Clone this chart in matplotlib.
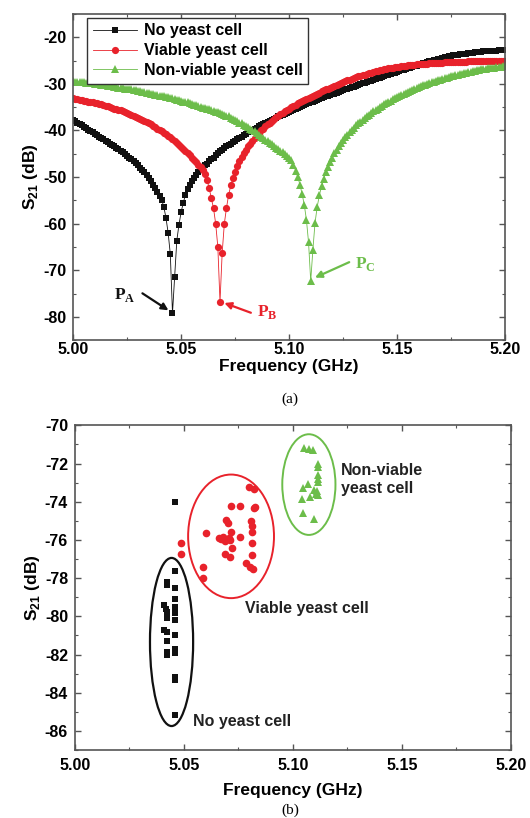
import numpy as np
import matplotlib
matplotlib.use("Agg")
import matplotlib.pyplot as plt
from matplotlib.patches import Ellipse
from matplotlib.ticker import MultipleLocator

plt.rcParams['font.family'] = ['Liberation Sans', 'DejaVu Sans']
plt.rcParams['font.weight'] = 'bold'
plt.rcParams['axes.unicode_minus'] = False
plt.rcParams['mathtext.fontset'] = 'custom'
plt.rcParams['mathtext.rm'] = 'Liberation Sans:bold'
plt.rcParams['mathtext.bf'] = 'Liberation Serif:bold'

# (a) measured sweep, 5.000 - 5.200 GHz, 1 MHz step
freq_ghz = np.linspace(5.0, 5.2, 201)

s21_none = [
    -37.7, -38.0, -38.3, -38.6, -38.9, -39.2, -39.5, -39.8, -40.1, -40.4,
    -40.7, -41.0, -41.3, -41.6, -41.9, -42.2, -42.5, -42.8, -43.1, -43.4,
    -43.7, -44.0, -44.3, -44.7, -45.0, -45.4, -45.8, -46.2, -46.6, -47.0,
    -47.5, -48.0, -48.5, -49.0, -49.6, -50.2, -50.9, -51.6, -52.4, -53.2,
    -54.0, -54.9, -56.4, -58.8, -62.0, -66.6, -79.2, -71.5, -63.6, -60.2,
    -57.5, -55.5, -53.8, -52.6, -51.6, -50.8, -50.1, -49.5, -49.0, -48.5,
    -48.0, -47.5, -47.1, -46.6, -46.2, -45.8, -45.3, -44.9, -44.5, -44.1,
    -43.7, -43.4, -43.1, -42.8, -42.5, -42.2, -41.9, -41.6, -41.3, -41.0,
    -40.7, -40.4, -40.1, -39.9, -39.6, -39.4, -39.1, -38.9, -38.6, -38.4,
    -38.2, -37.9, -37.7, -37.5, -37.3, -37.0, -36.8, -36.6, -36.4, -36.2,
    -36.0, -35.8, -35.6, -35.4, -35.2, -35.0, -34.8, -34.6, -34.4, -34.2,
    -34.0, -33.8, -33.6, -33.5, -33.3, -33.1, -32.9, -32.7, -32.6, -32.4,
    -32.2, -32.1, -31.9, -31.7, -31.6, -31.4, -31.2, -31.1, -30.9, -30.7,
    -30.6, -30.4, -30.2, -30.1, -29.9, -29.8, -29.6, -29.4, -29.3, -29.1,
    -29.0, -28.8, -28.7, -28.5, -28.4, -28.2, -28.0, -27.9, -27.7, -27.6,
    -27.4, -27.3, -27.1, -27.0, -26.8, -26.7, -26.5, -26.4, -26.2, -26.1,
    -25.9, -25.8, -25.6, -25.5, -25.3, -25.2, -25.1, -24.9, -24.8, -24.7,
    -24.6, -24.5, -24.3, -24.2, -24.1, -24.0, -23.9, -23.8, -23.8, -23.7,
    -23.6, -23.5, -23.5, -23.4, -23.3, -23.3, -23.2, -23.2, -23.1, -23.1,
    -23.0, -23.0, -23.0, -22.9, -22.9, -22.9, -22.9, -22.8, -22.8, -22.8,
    -22.8,
]

s21_viable = [
    -33.1, -33.2, -33.3, -33.4, -33.5, -33.6, -33.7, -33.8, -33.9, -34.0,
    -34.1, -34.2, -34.3, -34.4, -34.6, -34.7, -34.8, -35.0, -35.1, -35.3,
    -35.4, -35.6, -35.7, -35.9, -36.1, -36.3, -36.5, -36.7, -36.9, -37.1,
    -37.3, -37.5, -37.7, -38.0, -38.2, -38.5, -38.7, -39.0, -39.3, -39.6,
    -39.9, -40.2, -40.5, -40.8, -41.1, -41.5, -41.9, -42.3, -42.7, -43.1,
    -43.5, -43.9, -44.3, -44.8, -45.3, -45.8, -46.3, -46.8, -47.3, -47.9,
    -48.5, -49.3, -50.6, -52.4, -54.5, -56.7, -60.0, -65.0, -76.8, -66.3,
    -60.0, -56.6, -53.8, -51.8, -50.2, -48.8, -47.6, -46.6, -45.7, -44.9,
    -44.1, -43.4, -42.8, -42.2, -41.6, -41.0, -40.5, -40.0, -39.6, -39.1,
    -38.7, -38.3, -37.9, -37.5, -37.2, -36.8, -36.5, -36.2, -35.9, -35.6,
    -35.3, -35.0, -34.7, -34.5, -34.2, -34.0, -33.7, -33.5, -33.2, -33.0,
    -32.8, -32.5, -32.3, -32.1, -31.9, -31.6, -31.4, -31.2, -31.0, -30.8,
    -30.6, -30.4, -30.2, -30.0, -29.8, -29.6, -29.4, -29.2, -29.1, -28.9,
    -28.7, -28.6, -28.4, -28.3, -28.1, -28.0, -27.8, -27.7, -27.6, -27.4,
    -27.3, -27.2, -27.1, -27.0, -26.9, -26.8, -26.7, -26.6, -26.5, -26.4,
    -26.3, -26.3, -26.2, -26.1, -26.1, -26.0, -26.0, -25.9, -25.9, -25.8,
    -25.8, -25.8, -25.7, -25.7, -25.7, -25.6, -25.6, -25.6, -25.5, -25.5,
    -25.5, -25.5, -25.4, -25.4, -25.4, -25.4, -25.4, -25.3, -25.3, -25.3,
    -25.3, -25.3, -25.3, -25.2, -25.2, -25.2, -25.2, -25.2, -25.2, -25.2,
    -25.1, -25.1, -25.1, -25.1, -25.1, -25.1, -25.1, -25.1, -25.0, -25.0,
    -25.0,
]

s21_nonviable = [
    -29.4, -29.5, -29.5, -29.6, -29.6, -29.7, -29.8, -29.8, -29.9, -29.9,
    -30.0, -30.1, -30.1, -30.2, -30.3, -30.3, -30.4, -30.5, -30.5, -30.6,
    -30.7, -30.8, -30.8, -30.9, -31.0, -31.1, -31.2, -31.2, -31.3, -31.4,
    -31.5, -31.6, -31.7, -31.8, -31.9, -32.0, -32.1, -32.2, -32.3, -32.4,
    -32.5, -32.6, -32.7, -32.8, -32.9, -33.0, -33.1, -33.3, -33.4, -33.5,
    -33.6, -33.8, -33.9, -34.0, -34.2, -34.3, -34.5, -34.6, -34.8, -34.9,
    -35.1, -35.2, -35.4, -35.5, -35.7, -35.8, -36.0, -36.1, -36.3, -36.4,
    -36.6, -36.8, -37.0, -37.3, -37.5, -37.8, -38.0, -38.3, -38.5, -38.8,
    -39.0, -39.3, -39.6, -39.9, -40.2, -40.6, -40.9, -41.3, -41.6, -42.0,
    -42.3, -42.6, -43.0, -43.3, -43.7, -44.0, -44.4, -44.7, -45.1, -45.4,
    -45.8, -46.4, -47.4, -48.6, -50.0, -51.6, -53.6, -55.9, -59.1, -64.0,
    -72.3, -65.6, -59.8, -56.4, -53.9, -52.0, -50.4, -49.0, -47.8, -46.7,
    -45.8, -44.9, -44.1, -43.4, -42.7, -42.1, -41.5, -40.9, -40.4, -39.9,
    -39.4, -38.9, -38.5, -38.1, -37.7, -37.3, -36.9, -36.6, -36.2, -35.9,
    -35.6, -35.3, -35.0, -34.7, -34.4, -34.1, -33.8, -33.6, -33.3, -33.1,
    -32.8, -32.6, -32.4, -32.1, -31.9, -31.7, -31.5, -31.3, -31.1, -30.9,
    -30.7, -30.5, -30.3, -30.2, -30.0, -29.8, -29.7, -29.5, -29.4, -29.2,
    -29.1, -28.9, -28.8, -28.7, -28.5, -28.4, -28.3, -28.2, -28.0, -27.9,
    -27.8, -27.7, -27.6, -27.5, -27.4, -27.3, -27.2, -27.1, -27.0, -26.9,
    -26.8, -26.8, -26.7, -26.6, -26.5, -26.5, -26.4, -26.3, -26.3, -26.2,
    -26.1,
]

# (b) repeated resonance measurements
none_f = [5.0461, 5.0461, 5.0423, 5.0423, 5.0461, 5.0461, 5.0409, 5.0461,
          5.0416, 5.0423, 5.0461, 5.0423, 5.0461, 5.0409, 5.0423, 5.0461,
          5.0423, 5.0461, 5.0423, 5.0461, 5.0423, 5.0461, 5.0461, 5.0461]
none_s = [-74.0, -77.6, -78.2, -78.35, -78.5, -79.1, -79.4, -79.5,
          -79.6, -79.75, -79.8, -80.1, -80.2, -80.7, -80.8, -80.95,
          -81.3, -81.7, -81.85, -81.9, -82.0, -83.15, -83.35, -85.15]

viable_f = [5.0485, 5.0485, 5.0585, 5.0585, 5.0600, 5.0661, 5.0672, 5.0680,
            5.0690, 5.0695, 5.0702, 5.0705, 5.0712, 5.0718, 5.0722, 5.0687,
            5.0710, 5.0718, 5.0756, 5.0759, 5.0798, 5.0820, 5.0820, 5.0824,
            5.0809, 5.0814, 5.0812, 5.0812, 5.0812, 5.0786, 5.0801, 5.0817]
viable_s = [-76.17, -76.73, -77.4, -77.97, -75.65, -75.9, -75.95, -75.85,
            -76.05, -74.95, -75.1, -75.9, -76.0, -75.6, -76.4, -76.73,
            -76.87, -74.2, -74.2, -75.86, -73.25, -73.35, -74.35, -74.25,
            -75.0, -75.25, -75.6, -76.17, -76.78, -77.2, -77.4, -77.5]

nonviable_f = [5.1050, 5.1075, 5.1090, 5.1113, 5.1113, 5.1113, 5.1113, 5.1115,
               5.1070, 5.1045, 5.1095, 5.1110, 5.1105, 5.1078, 5.1040, 5.1113,
               5.1045, 5.1095]
nonviable_s = [-71.2, -71.25, -71.3, -72.0, -72.2, -72.6, -72.8, -72.95,
               -73.05, -73.3, -73.4, -73.45, -73.6, -73.75, -73.85, -73.65,
               -74.6, -74.9]

BLACK = '#111111'
RED = '#e8222b'
GREEN = '#6cbd4a'
SPINE = '#555555'


def style_axes(ax, ymajor, yminor, xpad, xlabelpad):
    ax.xaxis.set_major_locator(MultipleLocator(0.05))
    ax.xaxis.set_minor_locator(MultipleLocator(0.025))
    ax.yaxis.set_major_locator(MultipleLocator(ymajor))
    ax.yaxis.set_minor_locator(MultipleLocator(yminor))
    ax.tick_params(which='both', direction='in', top=True, right=True,
                   color=SPINE, labelsize=11.5)
    ax.tick_params(which='major', length=4, width=1)
    ax.tick_params(which='minor', length=2.5, width=0.8)
    ax.tick_params(axis='x', pad=xpad)
    ax.tick_params(axis='y', pad=5)
    ax.xaxis.set_major_formatter(plt.FuncFormatter(lambda v, p: f'{v:.2f}'))
    for s in ax.spines.values():
        s.set_color(SPINE)
        s.set_linewidth(1.2)
    ax.set_xlabel('Frequency (GHz)', fontsize=12.5, fontweight='bold', labelpad=xlabelpad)
    ax.set_ylabel(r'S$_{21}$ (dB)', fontsize=12.5, fontweight='bold', labelpad=2)


fig = plt.figure(figsize=(5.30, 8.18), dpi=100)
ax1 = fig.add_axes([0.138, 0.584, 0.815, 0.399])
ax2 = fig.add_axes([0.1415, 0.083, 0.8225, 0.397])

# ---- (a)
ax1.plot(freq_ghz, s21_none, '-s', color=BLACK, lw=0.6, ms=4.6, mew=0,
         label='No yeast cell')
ax1.plot(freq_ghz, s21_viable, '-o', color=RED, lw=0.6, ms=5.2, mew=0,
         label='Viable yeast cell')
ax1.plot(freq_ghz, s21_nonviable, '-^', color=GREEN, lw=0.6, ms=5.4, mew=0,
         label='Non-viable yeast cell')
ax1.set_xlim(5.0, 5.2)
ax1.set_ylim(-85, -15)
style_axes(ax1, 10, 5, xpad=1.5, xlabelpad=1.5)

leg = ax1.legend(loc='upper left', bbox_to_anchor=(0.032, 0.988), borderaxespad=0,
                 fancybox=False, framealpha=1, edgecolor='#333333',
                 prop={'size': 11.5, 'weight': 'bold'}, handlelength=2.8,
                 labelspacing=0.3, borderpad=0.35, handletextpad=0.4)
leg.get_frame().set_linewidth(1.0)

i_a = int(np.argmin(s21_none))
i_b = int(np.argmin(s21_viable))
i_c = int(np.argmin(s21_nonviable))
ax1.annotate('', xy=(freq_ghz[i_a] - 0.0008, s21_none[i_a] + 0.3), xytext=(5.031, -74.6),
             arrowprops=dict(arrowstyle='-|>', color=BLACK, lw=1.6, mutation_scale=10))
ax1.text(5.029, -75.3, r'$\mathbf{P}_\mathbf{A}$', color=BLACK, fontsize=12.5,
         ha='right', va='center')
ax1.annotate('', xy=(freq_ghz[i_b] + 0.0008, s21_viable[i_b]), xytext=(5.0835, -79.3),
             arrowprops=dict(arrowstyle='-|>', color=RED, lw=1.6, mutation_scale=10))
ax1.text(5.085, -79.0, r'$\mathbf{P}_\mathbf{B}$', color=RED, fontsize=12.5,
         ha='left', va='center')
ax1.annotate('', xy=(freq_ghz[i_c] + 0.0008, s21_nonviable[i_c] + 0.5), xytext=(5.129, -68.0),
             arrowprops=dict(arrowstyle='-|>', color=GREEN, lw=1.6, mutation_scale=10))
ax1.text(5.1305, -68.6, r'$\mathbf{P}_\mathbf{C}$', color=GREEN, fontsize=12.5,
         ha='left', va='center')

# ---- (b)
ax2.plot(none_f, none_s, 's', color=BLACK, ms=5, mew=0, ls='none')
ax2.plot(viable_f, viable_s, 'o', color=RED, ms=5.5, mew=0, ls='none')
ax2.plot(nonviable_f, nonviable_s, '^', color=GREEN, ms=6, mew=0, ls='none')
ax2.set_xlim(5.0, 5.2)
ax2.set_ylim(-87, -70)
style_axes(ax2, 2, 1, xpad=6, xlabelpad=7)
ax2.yaxis.set_major_formatter(plt.FuncFormatter(lambda v, p: f'{v:.0f}'))

ax2.add_patch(Ellipse((5.0443, -81.34), 0.0198, 8.8, fill=False, ec=BLACK, lw=1.6))
ax2.add_patch(Ellipse((5.0716, -75.81), 0.0394, 6.47, fill=False, ec=RED, lw=1.4))
ax2.add_patch(Ellipse((5.1073, -73.1), 0.0244, 5.27, fill=False, ec=GREEN, lw=1.4))

ax2.text(5.1222, -72.85, 'Non-viable\nyeast cell', fontsize=11.5, color='#222222',
         ha='left', va='center', linespacing=1.25)
ax2.text(5.0779, -79.57, 'Viable yeast cell', fontsize=11.5, color='#222222',
         ha='left', va='center')
ax2.text(5.0542, -85.48, 'No yeast cell', fontsize=11.5, color='#222222',
         ha='left', va='center')

fig.text(0.547, 1 - 399 / 818, '(a)', family='Liberation Serif', fontweight='normal',
         fontsize=11, ha='center', va='center')
fig.text(0.547, 0.009, '(b)', family='Liberation Serif', fontweight='normal',
         fontsize=11, ha='center', va='center')

fig.savefig('out.png', dpi=100)
